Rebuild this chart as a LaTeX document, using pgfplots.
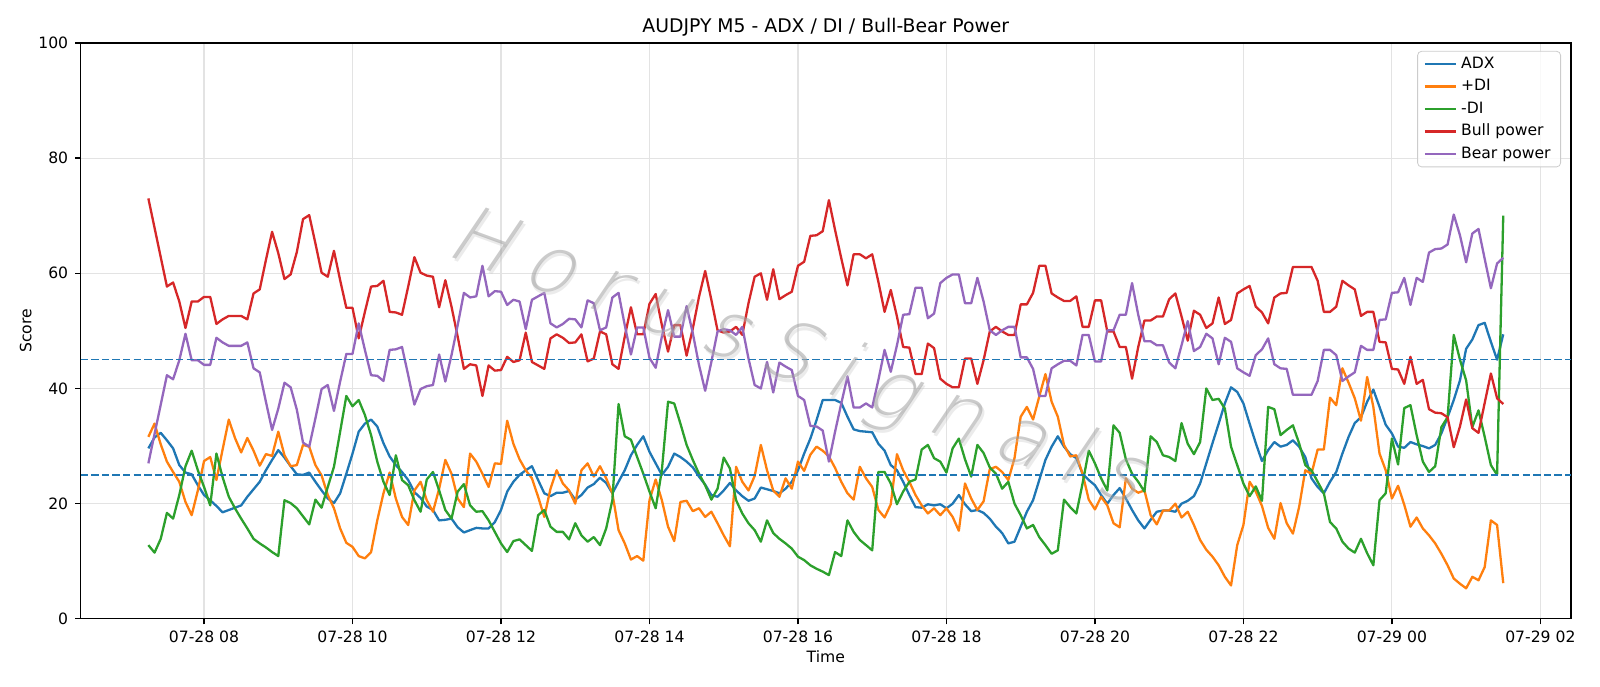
\documentclass[border=0pt]{standalone}
\usepackage{fontspec}
\setmainfont{DejaVu Sans}
\newfontfamily\wmfont[FakeSlant=0.25]{DejaVu Sans ExtraLight}
\usepackage{pgfplots}
\usepackage{pgfplotstable}
\pgfplotsset{compat=1.18}

\definecolor{cADX}{HTML}{1F77B4}
\definecolor{cPDI}{HTML}{FF7F0E}
\definecolor{cMDI}{HTML}{2CA02C}
\definecolor{cBull}{HTML}{D62728}
\definecolor{cBear}{HTML}{9467BD}
\definecolor{wmgray}{HTML}{A0A0A0}

% spaced-out watermark lettering
\newcommand{\wk}{\kern9.7pt}
\newcommand{\wmtext}{H\wk o\wk r\wk u\wk s\wk S\wk i\wk g\wk n\wk a\wk l\wk s}

% 5-minute bars from 07-28 07:15 (index 0) to 07-29 01:30 (index 219)
\pgfplotstableread{
i adx pdi mdi bull bear
0 29.6 31.6 12.8 73.0 27.0
1 31.5 33.9 11.5 67.9 32.1
2 32.3 30.3 13.9 62.8 37.2
3 31.0 27.3 18.4 57.7 42.3
4 29.6 25.5 17.4 58.4 41.6
5 26.7 23.8 21.5 55.1 44.9
6 25.4 20.3 26.5 50.5 49.5
7 25.1 18.0 29.2 55.1 44.9
8 23.2 22.3 25.8 55.1 44.9
9 21.5 27.4 22.9 55.9 44.1
10 20.6 28.1 19.7 55.9 44.1
11 19.6 24.1 28.7 51.2 48.8
12 18.5 29.4 24.6 52.0 48.0
13 18.9 34.6 21.2 52.6 47.4
14 19.3 31.4 19.2 52.6 47.4
15 19.7 28.9 17.4 52.6 47.4
16 21.2 31.4 15.7 52.0 48.0
17 22.5 29.2 13.9 56.5 43.5
18 23.8 26.6 13.1 57.2 42.8
19 25.8 28.6 12.4 62.3 37.7
20 27.6 28.3 11.6 67.2 32.8
21 29.3 32.5 10.9 63.5 36.5
22 28.0 28.4 20.6 59.0 41.0
23 26.5 26.5 20.1 59.8 40.2
24 25.1 26.7 19.2 63.7 36.3
25 25.0 30.2 17.8 69.4 30.6
26 25.4 29.9 16.4 70.1 29.9
27 23.8 26.7 20.7 65.2 34.8
28 22.3 24.9 19.3 60.1 39.9
29 20.9 21.5 22.9 59.4 40.6
30 20.1 19.2 26.4 63.9 36.1
31 21.8 15.7 32.5 58.8 41.2
32 25.2 13.2 38.7 54.0 46.0
33 28.7 12.5 36.9 54.0 46.0
34 32.5 10.9 38.0 48.7 51.3
35 33.9 10.5 35.4 53.3 46.7
36 34.6 11.6 31.9 57.7 42.3
37 33.4 17.1 27.3 57.8 42.2
38 30.5 21.8 23.8 58.7 41.3
39 28.2 25.4 21.5 53.3 46.7
40 26.7 20.9 28.4 53.2 46.8
41 25.5 17.7 24.1 52.8 47.2
42 24.1 16.3 23.2 57.7 42.3
43 22.0 22.3 20.6 62.8 37.2
44 21.0 23.8 18.6 60.1 39.9
45 19.5 20.6 24.2 59.6 40.4
46 18.9 18.6 25.5 59.4 40.6
47 17.1 22.6 22.3 54.1 45.9
48 17.2 27.6 18.9 58.8 41.2
49 17.4 25.2 17.4 54.2 45.8
50 15.9 20.9 22.1 49.0 51.0
51 15.0 19.4 23.4 43.4 56.6
52 15.4 28.7 19.7 44.2 55.8
53 15.8 27.3 18.6 44.0 56.0
54 15.7 25.2 18.7 38.7 61.3
55 15.7 22.9 17.1 44.0 56.0
56 16.8 27.0 15.1 43.1 56.9
57 18.9 26.9 13.1 43.2 56.8
58 22.1 34.4 11.6 45.5 54.5
59 23.8 30.4 13.5 44.6 55.4
60 25.0 27.7 13.8 44.9 55.1
61 25.8 25.8 12.8 49.7 50.3
62 26.5 24.4 11.8 44.6 55.4
63 24.1 21.2 18.0 44.0 56.0
64 21.8 17.7 18.9 43.4 56.6
65 21.3 22.6 16.0 48.7 51.3
66 21.9 25.8 15.1 49.4 50.6
67 21.9 23.5 15.1 48.8 51.2
68 22.2 22.3 13.8 47.9 52.1
69 20.7 20.0 16.6 48.0 52.0
70 21.5 25.8 14.5 49.4 50.6
71 22.8 27.0 13.4 44.7 55.3
72 23.4 24.7 14.2 45.2 54.8
73 24.5 26.5 12.8 49.9 50.1
74 23.6 24.4 15.7 49.4 50.6
75 21.8 21.8 20.6 44.2 55.8
76 23.8 15.4 37.3 43.4 56.6
77 25.8 13.1 31.7 49.0 51.0
78 28.4 10.3 31.1 54.1 45.9
79 30.2 10.9 28.1 49.4 50.6
80 31.7 10.1 25.2 49.4 50.6
81 29.0 20.6 22.1 54.7 45.3
82 27.0 24.2 19.2 56.4 43.6
83 25.0 20.6 25.8 51.0 49.0
84 26.4 16.0 37.7 46.4 53.6
85 28.7 13.5 37.4 51.0 49.0
86 28.1 20.3 33.9 51.0 49.0
87 27.3 20.5 30.2 45.7 54.3
88 26.3 18.7 27.6 50.4 49.6
89 24.7 19.2 25.2 55.9 44.1
90 23.3 17.7 23.2 60.4 39.6
91 21.5 18.6 20.7 55.4 44.6
92 21.2 16.6 22.6 50.1 49.9
93 22.3 14.5 28.0 49.7 50.3
94 23.6 12.6 26.1 49.9 50.1
95 22.3 26.4 20.6 50.7 49.3
96 21.3 23.8 18.3 49.3 50.7
97 20.5 22.3 16.6 54.8 45.2
98 20.9 24.8 15.4 59.4 40.6
99 22.8 30.2 13.4 60.0 40.0
100 22.5 25.8 17.1 55.4 44.6
101 22.2 22.3 14.9 60.7 39.3
102 21.8 21.2 13.9 55.5 44.5
103 22.6 24.4 13.1 56.2 43.8
104 23.8 22.6 12.2 56.8 43.2
105 25.8 27.3 10.8 61.3 38.7
106 28.7 25.7 10.2 62.0 38.0
107 31.3 28.5 9.3 66.5 33.5
108 34.5 29.9 8.7 66.6 33.4
109 38.0 29.2 8.2 67.3 32.7
110 38.0 28.2 7.6 72.7 27.3
111 38.0 26.2 11.6 67.5 32.5
112 37.5 23.8 10.9 62.6 37.4
113 35.1 21.8 17.1 57.9 42.1
114 32.9 20.7 15.1 63.3 36.7
115 32.6 26.4 13.7 63.3 36.7
116 32.5 24.4 12.8 62.6 37.4
117 32.4 22.9 11.9 63.3 36.7
118 30.4 18.9 25.5 58.5 41.5
119 29.2 17.6 25.5 53.3 46.7
120 26.7 19.9 23.5 57.1 42.9
121 25.8 28.6 19.9 52.5 47.5
122 23.8 25.8 22.1 47.2 52.8
123 21.5 23.8 23.8 47.1 52.9
124 19.4 21.5 24.2 42.5 57.5
125 19.3 19.7 29.4 42.5 57.5
126 19.9 18.3 30.2 47.8 52.2
127 19.7 19.2 27.9 47.0 53.0
128 19.9 18.0 27.3 41.7 58.3
129 19.2 19.2 25.4 40.8 59.2
130 20.0 17.7 29.6 40.2 59.8
131 21.5 15.3 31.3 40.2 59.8
132 19.9 23.5 27.7 45.2 54.8
133 18.7 20.9 24.7 45.2 54.8
134 18.9 18.9 30.2 40.8 59.2
135 18.4 20.4 28.8 44.9 55.1
136 17.4 26.0 26.3 49.9 50.1
137 16.0 26.4 25.2 50.7 49.3
138 14.9 25.5 22.6 49.9 50.1
139 13.1 24.1 23.8 49.3 50.7
140 13.4 27.9 20.0 49.3 50.7
141 16.0 35.1 18.0 54.6 45.4
142 18.6 36.8 15.7 54.6 45.4
143 20.6 34.6 16.3 56.6 43.4
144 24.1 38.6 14.2 61.3 38.7
145 27.6 42.5 12.8 61.3 38.7
146 29.9 37.7 11.3 56.5 43.5
147 31.7 35.1 11.9 55.8 44.2
148 29.9 30.2 20.7 55.2 44.8
149 28.6 28.2 19.4 55.2 44.8
150 27.9 28.4 18.3 56.0 44.0
151 25.2 25.2 23.5 50.7 49.3
152 24.1 20.7 29.2 50.7 49.3
153 23.2 19.0 27.0 55.3 44.7
154 21.5 21.2 24.4 55.3 44.7
155 20.0 19.7 22.3 49.9 50.1
156 21.5 16.6 33.6 49.9 50.1
157 22.7 15.9 32.3 47.2 52.8
158 20.9 24.4 27.7 47.2 52.8
159 18.9 22.6 25.2 41.7 58.3
160 17.1 21.9 23.8 47.2 52.8
161 15.7 22.3 22.1 51.8 48.2
162 17.2 18.0 31.7 51.8 48.2
163 18.6 16.4 30.7 52.5 47.5
164 18.8 18.8 28.4 52.5 47.5
165 18.8 18.8 28.1 55.5 44.5
166 18.6 20.0 27.4 56.5 43.5
167 20.0 17.6 34.0 52.5 47.5
168 20.5 18.6 30.4 48.3 51.7
169 21.3 16.3 28.6 53.5 46.5
170 23.5 13.7 30.7 52.8 47.2
171 27.0 12.0 40.0 50.5 49.5
172 30.5 10.8 38.0 51.3 48.7
173 33.9 9.3 38.2 55.8 44.2
174 37.4 7.3 36.5 51.2 48.8
175 40.2 5.8 29.9 51.9 48.1
176 39.4 12.8 26.7 56.5 43.5
177 37.4 16.3 23.5 57.2 42.8
178 33.9 23.8 21.3 57.8 42.2
179 30.5 22.1 23.0 54.2 45.8
180 27.4 19.6 20.5 53.2 46.8
181 29.3 15.8 36.8 51.3 48.7
182 30.7 13.9 36.4 55.8 44.2
183 29.9 20.1 31.9 56.5 43.5
184 30.2 16.6 32.8 56.6 43.4
185 31.0 14.8 33.6 61.1 38.9
186 29.9 19.4 30.5 61.1 38.9
187 28.1 25.8 26.7 61.1 38.9
188 24.4 25.2 25.8 61.1 38.9
189 22.9 29.4 23.8 58.7 41.3
190 21.8 29.4 21.8 53.3 46.7
191 23.8 38.4 16.8 53.3 46.7
192 25.5 37.1 15.7 54.2 45.8
193 28.7 43.5 13.4 58.7 41.3
194 31.6 41.0 12.2 57.9 42.1
195 34.0 38.3 11.5 57.2 42.8
196 35.0 34.4 13.9 52.6 47.4
197 37.7 42.0 11.4 53.3 46.7
198 39.8 36.8 9.3 53.3 46.7
199 36.8 28.7 20.6 48.1 51.9
200 33.7 25.8 21.8 48.0 52.0
201 32.2 20.9 31.3 43.4 56.6
202 29.9 23.1 26.8 43.3 56.7
203 29.7 19.8 36.6 40.8 59.2
204 30.7 16.0 37.1 45.5 54.5
205 30.3 17.6 31.9 40.8 59.2
206 30.0 15.7 27.3 41.5 58.5
207 29.6 14.5 25.5 36.4 63.6
208 30.2 13.1 26.5 35.8 64.2
209 32.2 11.3 33.3 35.7 64.3
210 35.0 9.3 35.0 35.0 65.0
211 38.0 7.0 49.3 29.8 70.2
212 41.4 6.1 45.0 33.4 66.6
213 46.9 5.3 41.4 38.1 61.9
214 48.5 7.3 33.3 33.1 66.9
215 51.0 6.7 36.2 32.3 67.7
216 51.4 9.0 31.6 37.5 62.5
217 48.1 17.1 26.7 42.6 57.4
218 45.0 16.3 25.0 38.3 61.7
219 49.4 6.2 70.0 37.3 62.7
}\indicators

\begin{document}
\begin{tikzpicture}
\begin{axis}[
  name=main,
  scale only axis,
  width=745pt, height=287.9pt,
  xmin=-10.95, xmax=229.95,
  ymin=0, ymax=100,
  xtick={9,33,57,81,105,129,153,177,201,225},
  xticklabels={07-28 08,07-28 10,07-28 12,07-28 14,07-28 16,07-28 18,07-28 20,07-28 22,07-29 00,07-29 02},
  ytick={0,20,40,60,80,100},
  tick pos=left,
  tick align=outside,
  major tick length=2.7pt,
  every tick/.style={black, line width=0.6pt},
  axis line style={line width=0.6pt},
  grid=major,
  major grid style={line width=0.55pt, black!11},
  tick label style={font=\fontsize{7.8}{9}\selectfont},
  /pgf/number format/assume math mode=true,
  title={AUDJPY M5 - ADX / DI / Bull-Bear Power},
  title style={font=\fontsize{9.4}{11}\selectfont, yshift=-6.1pt},
  xlabel={Time}, ylabel={Score},
  label style={font=\fontsize{7.8}{9}\selectfont},
  xlabel style={at={(axis description cs:0.5,-0.0657)}, anchor=center},
  ylabel style={at={(axis description cs:-0.0369,0.5)}, anchor=center},
  legend style={at={(axis description cs:1,1)}, anchor=north east,
    xshift=-5pt, yshift=-4pt, draw=black!20, rounded corners=2pt,
    fill=white, fill opacity=0.8, text opacity=1,
    font=\fontsize{7.8}{9}\selectfont, inner xsep=3pt, inner ysep=0.8pt,
    row sep=0pt},
  legend cell align=left,
  legend image code/.code={\draw[#1] (0pt,0pt) -- (15.6pt,0pt);},
  every axis plot/.append style={line width=1.15pt, line join=round},
]
\addplot[cADX]  table[x=i, y=adx]  {\indicators}; \addlegendentry{ADX}
\addplot[cPDI]  table[x=i, y=pdi]  {\indicators}; \addlegendentry{+DI}
\addplot[cMDI]  table[x=i, y=mdi]  {\indicators}; \addlegendentry{-DI}
\addplot[cBull] table[x=i, y=bull] {\indicators}; \addlegendentry{Bull power}
\addplot[cBear] table[x=i, y=bear] {\indicators}; \addlegendentry{Bear power}

% reference levels
\addplot[forget plot, cADX, line width=0.8pt, dash pattern=on 3.7pt off 1.6pt]
  coordinates {(-10.95,45) (229.95,45)};
\addplot[forget plot, cADX, line width=0.8pt, dash pattern=on 3.7pt off 1.6pt]
  coordinates {(-10.95,25) (229.95,25)};

% watermark
\node[rotate=-20, text=wmgray!60, opacity=0.35, xshift=1.2pt, yshift=-1.2pt,
      font=\wmfont\fontsize{40}{40}\selectfont] at (axis cs:104.6,45.1) {\wmtext};
\node[rotate=-20, text=wmgray, opacity=0.55,
      font=\wmfont\fontsize{40}{40}\selectfont] at (axis cs:104.6,45.1) {\wmtext};
\end{axis}
\pgfresetboundingbox
\path ([shift={(-40.3pt,-33.7pt)}]main.south west) rectangle ([shift={(14.5pt,21.45pt)}]main.north east);
\end{tikzpicture}
\end{document}
